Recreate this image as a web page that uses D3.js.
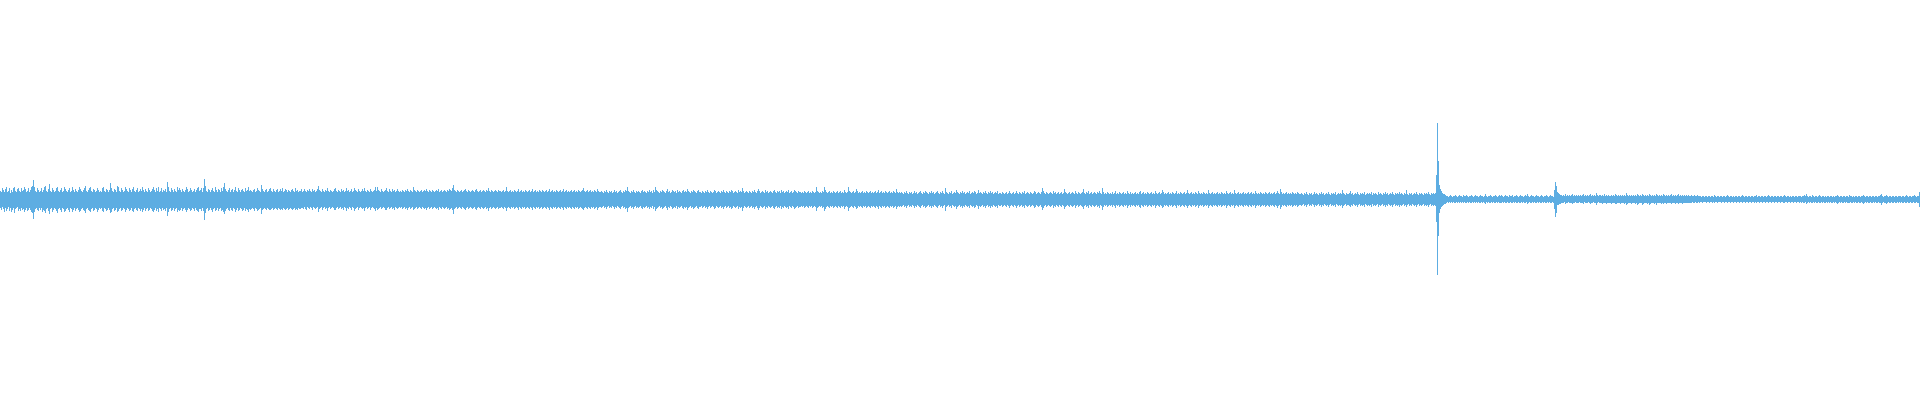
<!DOCTYPE html>
<html><head><meta charset="utf-8">
<script src="https://cdn.jsdelivr.net/npm/d3@7"></script>
<style>html,body{margin:0;padding:0;background:#fff;overflow:hidden}</style>
</head><body><svg id="chart" width="1920" height="400"></svg>
<script>
// Per-column peak amplitude above the centre line (one value per pixel column)
const peakHigh = [
8,7,11,9,7,10,12,7,8,11,6,9,7,11,12,8,7,10,11,8,7,11,8,9,12,10,7,8,11,7,9,12,13,19,12,8,7,11,9,7,8,11,7,9,12,13,8,7,10,15,8,7,11,9,7,8,11,12,8,7,9,11,7,8,12,10,8,7,9,11,7,8,12,9,7,10,8,7,9,12,10,8,7,9,11,13,8,7,9,11,12,8,7,10,9,7,8,11,9,7,
8,7,11,12,8,7,10,9,7,9,16,11,8,7,10,9,7,13,12,8,7,11,9,7,8,12,10,8,7,11,9,7,10,12,8,7,9,11,7,8,10,8,12,9,7,10,8,7,11,9,7,8,10,12,9,7,11,8,12,7,8,11,7,9,8,10,7,17,12,8,7,11,9,7,10,8,7,12,9,11,9,7,10,8,7,9,12,10,7,8,11,9,7,8,10,7,9,11,12,8,
9,11,7,11,20,13,8,7,10,9,7,9,11,8,7,12,9,7,10,9,7,11,8,12,16,10,8,7,9,11,7,9,10,7,9,12,8,7,11,9,7,9,10,8,7,11,8,9,12,8,9,8,7,9,10,7,8,11,9,8,7,14,10,8,7,9,10,7,8,10,11,8,7,10,8,7,9,10,7,8,10,8,11,7,8,10,9,7,9,8,7,9,10,8,7,11,8,9,7,8,
8,10,7,8,10,8,7,9,8,10,8,7,10,8,9,7,8,10,13,9,8,7,10,8,7,9,8,11,8,7,9,8,7,8,10,11,8,7,9,8,7,10,8,9,7,8,11,8,9,7,8,10,7,8,11,9,8,7,10,8,7,8,10,8,11,8,7,9,8,7,10,8,7,8,9,12,8,12,9,8,7,10,8,7,8,9,11,8,7,10,8,7,10,8,9,7,8,10,8,7,
8,7,9,8,7,9,8,10,8,7,9,8,7,12,9,8,7,9,8,7,8,9,7,8,9,8,10,8,7,9,8,7,9,8,7,8,9,8,10,7,8,9,7,8,9,8,7,9,8,10,9,8,11,14,9,8,7,9,8,7,8,9,7,8,9,10,8,7,9,8,7,8,9,8,7,9,10,8,7,8,9,7,8,9,8,7,9,8,11,8,7,9,8,7,8,9,8,7,9,8,
8,7,8,9,7,8,12,8,7,8,9,7,8,7,9,8,7,8,10,7,8,9,7,8,7,9,8,7,8,9,7,8,10,7,8,9,7,8,7,9,8,7,9,8,7,8,9,7,8,10,7,8,9,7,8,7,9,8,7,8,9,7,8,10,7,8,9,7,8,7,8,9,7,8,9,7,8,7,9,8,7,8,9,11,8,7,8,9,7,8,9,7,8,7,9,8,7,10,8,7,
7,8,7,6,8,7,9,7,6,8,7,8,6,7,9,7,8,6,7,8,9,7,6,8,7,9,8,12,8,7,6,8,7,9,7,6,8,7,8,7,6,8,9,7,8,7,6,8,7,9,7,8,6,9,7,12,9,8,7,6,8,7,9,8,7,6,8,10,7,8,6,7,9,8,7,8,6,9,7,8,7,6,8,9,7,8,7,10,8,7,6,8,7,9,8,7,6,8,9,7,
7,6,8,7,6,8,7,9,7,6,8,7,6,7,9,8,6,7,8,7,6,8,7,9,7,6,8,7,6,8,7,9,8,6,7,8,7,6,9,7,8,7,11,8,6,7,8,7,6,8,7,6,8,7,9,7,6,8,10,8,6,7,8,7,6,9,7,8,6,7,8,7,6,8,9,7,6,8,7,8,6,9,7,8,6,7,8,7,9,6,7,8,6,7,9,8,7,6,8,7,
7,6,7,6,8,7,6,7,8,6,7,6,8,7,6,7,12,8,7,6,7,6,8,7,12,9,7,6,7,8,6,7,6,8,7,6,7,8,6,7,8,6,7,6,9,7,6,7,12,8,7,6,7,8,6,7,10,8,6,7,6,7,8,6,7,6,8,7,6,7,8,6,7,6,7,8,6,7,9,6,7,8,6,7,6,8,7,6,7,8,6,7,6,8,7,6,10,7,6,7,
6,7,6,5,7,6,8,6,5,7,6,7,5,6,8,6,7,5,6,7,8,6,5,7,6,8,7,6,5,7,6,8,6,7,5,6,7,8,6,5,7,6,8,6,5,11,7,6,5,7,6,8,5,6,7,6,9,7,6,5,7,6,8,6,7,5,6,7,6,8,5,6,7,6,8,7,5,6,9,6,7,6,5,7,6,8,6,5,7,6,8,6,7,5,6,7,6,8,5,6,
6,5,7,6,5,6,7,5,6,8,6,5,6,7,5,6,8,6,5,7,6,5,7,6,8,5,6,7,6,5,7,6,5,6,8,7,5,6,7,6,5,7,11,8,6,5,7,6,5,6,7,6,5,8,6,7,5,6,7,5,6,7,5,6,10,7,6,5,6,7,5,6,7,6,5,8,6,5,7,6,5,6,7,10,6,5,7,6,8,5,6,7,5,6,7,6,5,7,6,8,
6,5,11,7,5,6,5,7,6,5,6,5,7,5,6,8,5,6,5,7,6,5,6,7,5,6,5,8,6,5,7,5,6,5,6,7,5,6,5,7,8,5,6,7,5,6,5,7,6,5,6,7,5,6,5,8,6,5,6,7,5,6,9,7,5,6,5,6,7,5,6,5,7,6,5,6,8,5,6,5,7,6,5,6,7,5,6,9,6,5,6,7,5,6,5,7,6,5,8,6,
5,6,5,7,6,5,6,5,9,6,5,6,7,5,6,5,6,7,5,6,5,7,6,5,6,5,8,6,5,6,7,5,6,5,9,6,5,6,7,5,6,5,6,7,5,6,5,6,7,5,6,7,5,6,5,8,6,5,6,5,7,6,5,6,5,7,6,5,6,7,5,6,5,6,7,5,6,8,6,5,10,7,5,6,5,6,7,5,6,5,6,5,7,6,5,6,5,7,6,5,
5,6,5,4,6,5,7,5,4,6,5,6,4,5,7,5,6,5,4,6,5,7,5,6,4,5,6,5,7,5,4,6,5,6,5,7,4,5,6,5,6,5,9,6,5,4,6,5,5,6,8,5,6,4,5,6,5,7,5,4,6,5,6,5,7,4,5,6,5,6,5,7,4,6,5,6,5,4,7,5,6,5,4,6,5,7,5,6,4,5,6,5,7,5,4,6,5,6,5,7,
5,6,5,4,6,5,9,5,4,6,5,6,4,5,6,5,7,5,4,6,5,6,5,4,6,5,6,5,7,5,4,6,5,6,5,6,24,76,38,14,10,8,6,5,5,4,3,3,2,3,4,3,2,3,3,4,3,2,3,4,3,3,2,4,3,3,4,3,2,3,3,4,3,2,3,4,3,3,2,3,4,3,3,2,3,5,3,2,3,3,4,3,2,3,3,4,3,2,3,4,
3,4,3,2,3,4,3,3,2,4,3,3,4,2,3,3,4,3,2,3,4,3,3,2,3,4,3,5,3,2,3,4,3,3,2,3,4,3,3,2,3,4,3,2,3,3,4,3,2,3,4,3,3,2,9,17,13,7,6,5,4,4,3,4,3,5,3,4,3,4,3,4,5,3,4,3,4,3,4,3,4,3,4,5,3,4,3,4,3,4,5,3,4,3,4,3,6,4,3,4,
4,3,4,3,5,3,4,3,4,3,3,4,3,4,3,5,4,3,4,3,4,3,4,3,4,3,6,4,3,4,3,4,3,4,3,4,3,5,4,3,4,3,5,4,3,4,3,4,3,5,4,3,4,3,4,3,5,4,3,4,3,4,3,5,4,3,4,3,4,3,4,5,3,4,3,4,3,4,5,3,4,3,4,3,4,3,4,3,4,3,3,4,3,3,4,3,3,4,3,3,
3,2,3,3,2,3,3,2,3,3,2,3,3,2,4,3,2,3,3,2,3,3,2,3,3,2,3,4,3,2,3,3,2,3,2,3,3,2,3,3,2,3,4,3,2,3,3,2,3,3,2,3,3,2,3,3,4,2,3,3,2,3,3,2,3,3,2,3,4,3,2,3,3,2,3,3,2,3,3,2,3,3,2,3,4,3,2,3,3,2,3,2,3,3,2,3,3,2,3,3,
3,2,3,3,4,3,5,3,2,3,3,2,4,3,2,3,3,2,3,4,3,2,3,3,2,3,2,3,3,2,3,3,2,3,2,3,3,4,3,2,3,3,2,3,3,2,3,3,2,4,3,3,2,3,2,3,3,2,3,3,2,3,3,4,3,2,3,3,2,3,3,2,3,3,2,3,3,2,3,3,4,5,3,2,3,3,4,3,2,3,3,2,3,3,2,3,3,2,3,3,
3,2,3,3,2,3,4,3,2,3,3,2,3,3,4,3,2,3,3,7
];
// Per-column peak amplitude below the centre line
const peakLow = [
9,11,8,10,13,9,12,10,8,12,9,13,11,9,14,10,9,8,12,10,12,9,11,10,13,11,9,12,11,9,11,13,14,20,13,10,9,11,12,9,11,9,13,11,12,14,10,9,12,15,10,9,13,11,9,10,12,14,10,9,11,13,9,10,13,12,10,9,11,13,9,10,13,11,9,12,10,9,11,13,12,10,9,11,12,14,10,9,11,12,13,10,9,12,11,9,10,13,11,9,
10,9,12,13,9,10,12,11,9,11,14,13,10,9,12,11,9,13,12,10,9,12,11,9,10,13,11,9,10,12,11,9,12,13,10,9,11,12,9,10,12,10,13,11,9,12,10,9,12,11,9,10,12,13,11,9,12,10,13,9,10,12,9,11,10,12,9,17,13,10,9,12,11,9,12,10,9,13,11,12,11,9,12,10,9,11,13,11,9,10,12,11,9,10,12,9,11,12,13,10,
10,12,9,12,21,14,10,9,12,11,9,11,13,10,9,12,11,9,12,10,9,12,11,13,15,12,10,9,11,12,9,11,12,9,10,13,11,9,12,11,9,10,12,11,9,12,10,11,13,10,11,10,9,10,12,9,10,12,11,10,9,15,11,10,9,10,11,9,10,11,11,10,9,11,10,9,10,11,9,10,11,10,11,9,10,11,10,9,11,10,9,10,11,10,9,11,10,11,9,10,
10,9,9,10,8,10,11,8,9,10,8,9,11,8,9,10,9,8,13,10,9,8,11,9,8,10,9,12,9,8,10,9,8,9,11,11,9,8,10,9,8,10,9,11,8,9,12,9,10,8,9,11,8,9,12,10,9,8,11,9,8,9,10,9,12,9,8,10,9,8,11,9,8,9,10,12,9,11,10,9,8,10,9,8,9,11,11,9,8,10,9,8,10,9,11,8,9,10,9,8,
9,8,10,9,8,10,9,11,9,8,10,9,8,11,10,9,8,10,9,8,9,10,8,9,10,9,11,9,8,10,9,8,10,9,8,9,10,9,11,8,9,10,8,9,10,9,8,10,9,11,10,9,11,15,10,9,8,10,9,8,9,10,8,9,10,11,9,8,10,9,8,9,10,9,8,10,11,9,8,9,10,8,9,10,9,8,10,9,12,9,8,10,9,8,9,10,9,8,10,9,
9,8,9,10,8,9,12,9,8,9,10,8,9,8,10,9,8,9,11,8,9,10,8,9,8,10,9,8,9,10,8,9,11,8,9,10,8,9,8,10,9,8,10,9,8,9,10,8,9,11,8,9,10,8,9,8,10,9,8,9,10,8,9,11,8,9,10,8,9,8,9,10,8,9,10,8,9,8,10,9,8,9,10,11,9,8,9,10,8,9,10,8,9,8,10,9,8,11,9,8,
8,9,8,7,9,8,10,8,7,9,8,9,7,8,10,8,9,7,8,9,10,8,7,9,8,10,9,13,9,8,7,9,8,10,8,7,9,8,9,8,7,9,10,8,9,8,7,9,8,10,8,9,7,10,8,12,10,9,8,7,9,8,10,9,8,7,9,11,8,9,7,8,10,9,8,9,7,10,8,9,8,7,9,10,8,9,8,11,9,8,7,9,8,10,9,8,7,9,10,8,
8,7,9,8,7,9,8,10,8,7,9,8,7,8,10,9,7,8,9,8,7,9,8,10,8,7,9,8,7,9,8,10,9,7,8,9,8,7,10,8,9,8,12,9,7,8,9,8,7,9,8,7,9,8,10,8,7,9,11,9,7,8,9,8,7,10,8,9,7,8,9,8,7,9,10,8,7,9,8,9,7,10,8,9,7,8,9,8,10,7,8,9,7,8,10,9,8,7,9,8,
8,7,8,7,9,8,7,8,9,7,8,7,9,8,7,8,12,9,8,7,8,7,9,8,12,10,8,7,8,9,7,8,7,9,8,7,8,9,7,8,9,7,8,7,10,8,7,8,12,9,8,7,8,9,7,8,10,9,7,8,7,8,9,7,8,7,9,8,7,8,9,7,8,7,8,9,7,8,10,7,8,9,7,8,7,9,8,7,8,9,7,8,7,9,8,7,10,8,7,8,
7,8,7,6,8,7,9,7,6,8,7,8,6,7,9,7,8,6,7,8,9,7,6,8,7,9,8,7,6,8,7,9,7,8,6,7,8,9,7,6,8,7,9,7,6,12,8,7,6,8,7,9,6,7,8,7,10,8,7,6,8,7,9,7,8,6,7,8,7,9,6,7,8,7,9,8,6,7,10,7,8,7,6,8,7,9,7,6,8,7,9,7,8,6,7,8,7,9,6,7,
7,6,8,7,6,7,8,6,7,9,7,6,7,8,6,7,9,7,6,8,7,6,8,7,9,6,7,8,7,6,8,7,6,7,9,8,6,7,8,7,6,8,11,9,7,6,8,7,6,7,8,7,6,9,7,8,6,7,8,6,7,8,6,7,10,8,7,6,7,8,6,7,8,7,6,9,7,6,8,7,6,7,8,10,7,6,8,7,9,6,7,8,6,7,8,7,6,8,7,9,
6,7,11,8,6,7,6,8,7,6,7,6,8,6,7,9,6,7,6,8,7,6,7,8,6,7,6,9,7,6,8,6,7,6,7,8,6,7,6,8,9,6,7,8,6,7,6,8,7,6,7,8,6,7,6,9,7,6,7,8,6,7,9,8,6,7,6,7,8,6,7,6,8,7,6,7,9,6,7,6,8,7,6,7,8,6,7,9,7,6,7,8,6,7,6,8,7,6,9,7,
6,7,6,8,7,6,7,6,9,7,6,7,8,6,7,6,7,8,6,7,6,8,7,6,7,6,9,7,6,7,8,6,7,6,9,7,6,7,8,6,7,6,7,8,6,7,6,7,8,6,7,8,6,7,6,9,7,6,7,6,8,7,6,7,6,8,7,6,7,8,6,7,6,7,8,6,7,9,7,6,10,8,6,7,6,7,8,6,7,6,7,6,8,7,6,7,6,8,7,6,
6,7,6,5,7,6,8,6,5,7,6,7,5,6,8,6,7,6,5,7,6,8,6,7,5,6,7,6,8,6,5,7,6,7,6,8,5,6,7,6,7,6,9,7,6,5,7,6,6,7,8,6,7,5,6,7,6,8,6,5,7,6,7,6,8,5,6,7,6,7,6,8,5,7,6,7,6,5,8,6,7,6,5,7,6,8,6,7,5,6,7,6,8,6,5,7,6,7,6,8,
6,7,6,5,7,6,8,6,5,7,6,7,5,6,7,6,8,6,5,7,6,7,6,5,7,6,7,6,8,6,5,7,6,7,6,7,23,76,37,14,10,8,7,6,5,5,4,3,4,3,4,3,4,3,4,4,3,4,3,4,3,4,3,4,3,4,4,3,4,3,4,4,3,4,3,4,3,4,3,4,4,3,4,3,4,5,3,4,3,4,4,3,4,3,4,4,3,4,3,4,
4,4,3,4,3,4,4,3,4,4,3,4,4,3,4,3,4,4,3,4,4,3,4,3,4,4,3,5,4,3,4,4,3,4,3,4,4,3,4,3,4,4,3,4,3,4,4,3,4,3,4,4,3,4,10,18,14,6,6,5,5,4,4,4,3,5,4,4,3,4,4,4,5,4,4,3,4,4,4,3,4,4,4,5,3,4,4,4,3,4,5,4,4,3,4,4,6,4,3,4,
4,4,5,4,4,4,5,4,4,4,4,5,4,4,4,5,5,4,4,4,5,4,4,4,5,4,6,5,4,4,4,5,4,4,4,5,4,6,5,4,4,4,6,5,4,4,4,5,4,6,5,4,4,4,5,4,6,4,4,4,4,5,4,5,4,4,5,4,4,4,4,5,4,4,4,5,4,4,5,4,4,4,5,4,4,4,4,4,4,4,4,4,3,4,4,3,4,4,3,4,
3,3,4,3,3,3,4,3,3,4,3,3,4,3,4,3,3,4,3,3,3,4,3,3,4,3,3,4,3,3,4,3,3,4,3,3,4,3,3,4,3,3,4,3,3,4,3,3,4,3,3,4,3,3,4,3,4,3,3,4,3,3,4,3,3,4,3,3,4,3,3,4,3,3,4,3,3,4,3,3,4,3,3,4,4,3,3,4,3,3,4,3,3,4,3,3,4,3,3,4,
3,4,3,4,4,3,5,4,3,4,3,4,4,3,4,3,4,4,3,4,4,3,4,3,4,4,3,4,3,4,3,4,4,3,4,3,4,5,4,3,4,3,4,4,3,4,3,4,4,4,3,4,4,3,4,3,4,4,3,4,4,3,4,5,4,3,4,3,4,4,3,4,4,3,4,3,4,4,3,4,4,6,4,3,4,4,5,4,3,4,4,3,4,4,3,4,4,3,4,3,
4,3,4,4,3,4,4,3,4,4,3,4,4,3,4,4,3,4,4,8
];

const svg = d3.select('#chart');
const W = 1920, H = 400;
const n = Math.min(peakHigh.length, peakLow.length);
const x = d3.scaleLinear().domain([0, n]).range([0, W]);
const y = d3.scaleLinear().domain([-200, 200]).range([399, -1]);
const colW = x(1) - x(0);

svg.append('g')
  .attr('shape-rendering', 'crispEdges')
  .selectAll('rect')
  .data(d3.range(n))
  .join('rect')
  .attr('x', i => x(i))
  .attr('width', colW)
  .attr('y', i => y(peakHigh[i]))
  .attr('height', i => y(-peakLow[i]) - y(peakHigh[i]))
  .attr('fill', '#5dade2');
</script>
</body></html>
